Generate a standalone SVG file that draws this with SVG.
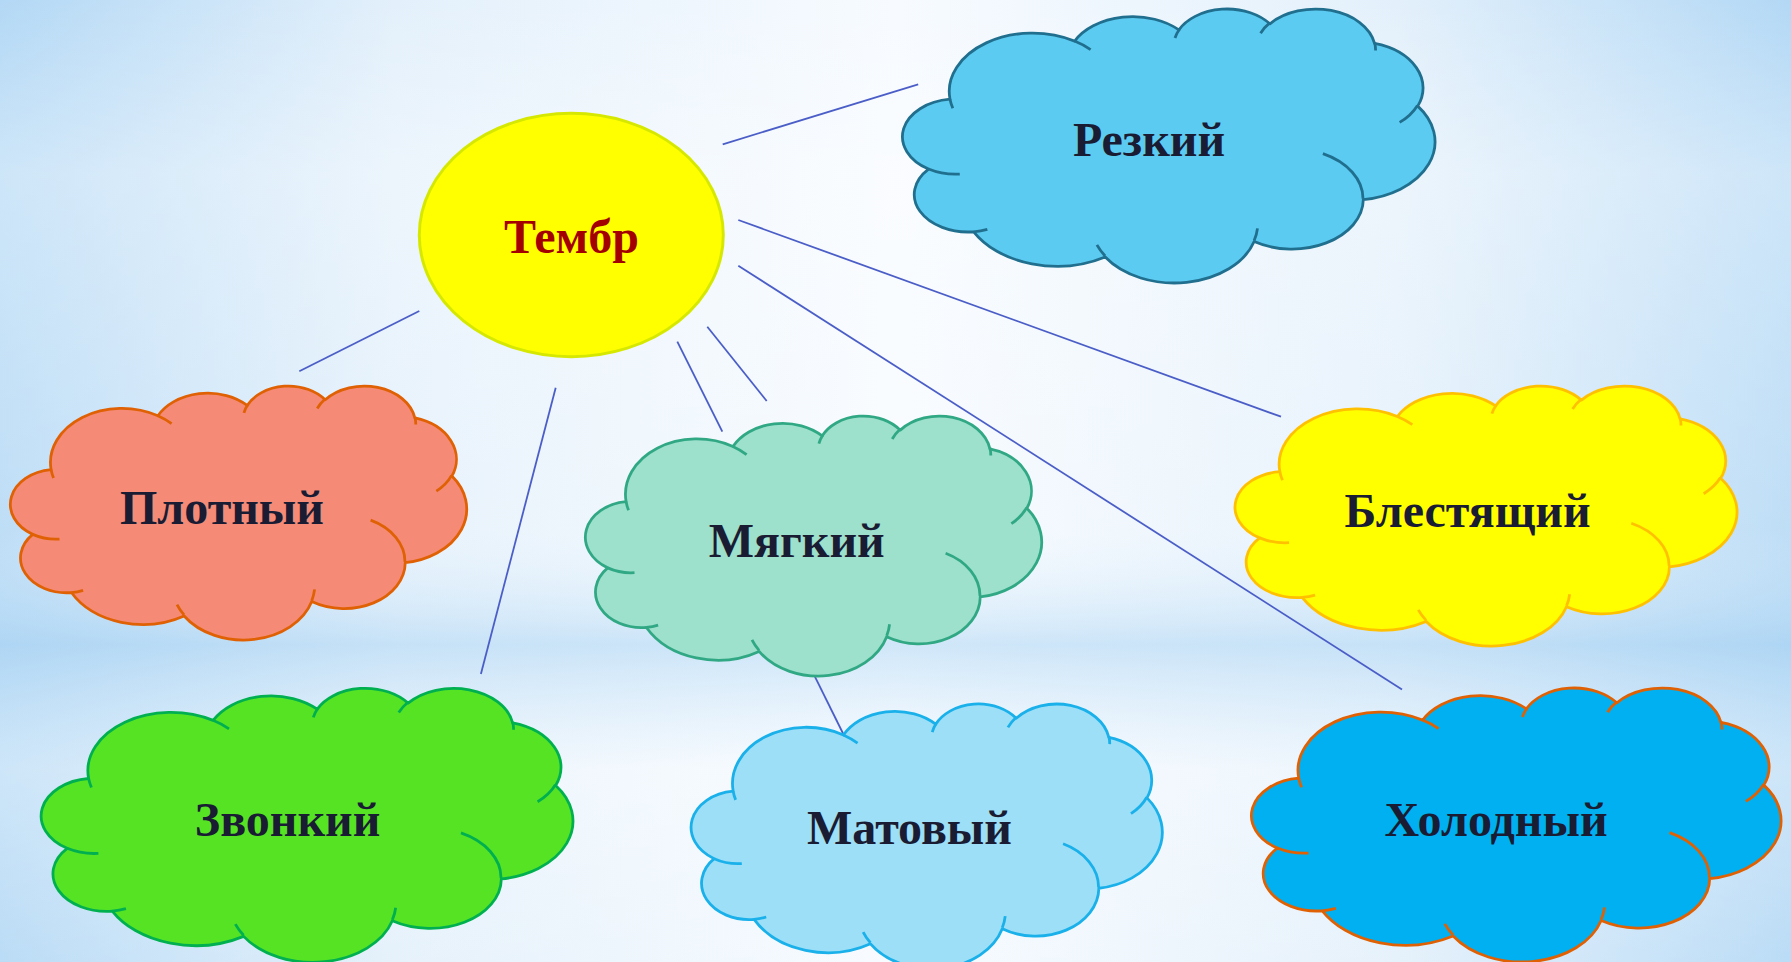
<svg xmlns="http://www.w3.org/2000/svg" xmlns:xlink="http://www.w3.org/1999/xlink" width="1791" height="962" viewBox="0 0 1791 962">
<defs>
<linearGradient id="bgH" x1="0" y1="0" x2="1" y2="0">
<stop offset="0" stop-color="#b3d8f5"/>
<stop offset="0.22" stop-color="#e3f0fb"/>
<stop offset="0.5" stop-color="#f7fbff"/>
<stop offset="0.78" stop-color="#e3f0fb"/>
<stop offset="1" stop-color="#b3d8f5"/>
</linearGradient>
<linearGradient id="bgV" x1="0" y1="0" x2="0" y2="1">
<stop offset="0" stop-color="#ffffff" stop-opacity="0"/>
<stop offset="0.18" stop-color="#ffffff" stop-opacity="0.35"/>
<stop offset="0.55" stop-color="#ffffff" stop-opacity="0.15"/>
<stop offset="0.67" stop-color="#a9d3f3" stop-opacity="0.5"/>
<stop offset="0.8" stop-color="#ffffff" stop-opacity="0.35"/>
<stop offset="1" stop-color="#ffffff" stop-opacity="0.1"/>
</linearGradient>
<path id="cloud" vector-effect="non-scaling-stroke" d="M 39.00 143.70 A 67.53 91.90 0 0 1 140.05 52.02 A 53.33 72.67 0 0 1 224.57 34.35 A 43.65 59.45 0 0 1 298.34 24.83 A 48.57 65.95 0 0 1 383.19 55.78 A 53.33 72.73 0 0 1 418.20 154.61 A 67.75 92.20 0 0 1 374.06 302.05 A 57.85 78.67 0 0 1 285.57 368.15 A 67.52 92.15 0 0 1 164.83 392.68 A 77.20 105.43 0 0 1 58.20 352.81 A 43.60 59.18 0 0 1 21.60 253.80 A 43.45 59.45 0 0 1 39.00 143.70 Z"/>
<path id="cloudIn" vector-effect="non-scaling-stroke" fill="none" d="M 46.93 261.77 A 43.45 59.45 0 0 1 21.60 253.80 M 69.28 348.99 A 43.60 59.18 0 0 1 58.20 352.81 M 164.78 390.90 A 67.52 92.15 0 0 1 158.09 373.48 M 288.27 347.51 A 67.52 92.15 0 0 1 285.60 366.60 M 341.29 229.54 A 57.85 78.67 0 0 1 373.81 300.90 M 417.98 153.54 A 53.33 72.73 0 0 1 403.50 180.31 M 383.24 54.26 A 48.57 65.95 0 0 1 384.01 66.90 M 290.78 39.52 A 48.57 65.95 0 0 1 298.20 23.39 M 221.41 47.20 A 43.65 59.45 0 0 1 225.00 33.31 M 140.00 51.92 A 67.53 91.90 0 0 1 152.99 65.39 M 41.27 157.89 A 67.53 91.90 0 0 1 39.00 143.70"/>
</defs>
<style>
.lbl{font-family:"Liberation Serif","Times New Roman",serif;font-weight:bold;font-size:48px;fill:#1a1c33;text-anchor:middle}
.ttl{fill:#a30000}
.cl{stroke-width:2.8px;stroke-linejoin:round}
.cn line{stroke:#4b5ec8;stroke-width:1.8}
</style>
<rect width="1791" height="962" fill="url(#bgH)"/>
<rect width="1791" height="962" fill="url(#bgV)"/>

<g id="connectors" class="cn">
<line x1="722.7" y1="144.3" x2="918.2" y2="84.3"/>
<line x1="738.3" y1="220" x2="1281" y2="416.7"/>
<line x1="738.3" y1="265.7" x2="1402" y2="689.5"/>
<line x1="707.3" y1="326.7" x2="766.7" y2="401"/>
<line x1="677.3" y1="341.7" x2="722.3" y2="431.7"/>
<line x1="555.7" y1="387.7" x2="480.9" y2="673.9"/>
<line x1="419.3" y1="311" x2="299.3" y2="371.2"/>
<line x1="813.3" y1="673.3" x2="843.3" y2="734"/>
</g>

<g id="timbre">
<ellipse cx="571.3" cy="235" rx="152" ry="121.7" fill="#ffff00" stroke="#d6e800" stroke-width="3"/>
<text class="lbl ttl" x="571.5" y="253">Тембр</text>
</g>

<g id="rezkiy" class="cl" fill="#5ccbf2" stroke="#216f8e">
<use xlink:href="#cloud" transform="translate(901.9 8.1) scale(1.2335 0.634)"/>
<use xlink:href="#cloudIn" transform="translate(901.9 8.1) scale(1.2335 0.634)"/>
<text class="lbl" x="1149" y="156" stroke="none">Резкий</text>
</g>

<g id="plotny" class="cl" fill="#f58b77" stroke="#df6104">
<use xlink:href="#cloud" transform="translate(9.9 385.2) scale(1.0569 0.5877)"/>
<use xlink:href="#cloudIn" transform="translate(9.9 385.2) scale(1.0569 0.5877)"/>
<text class="lbl" x="222" y="524" stroke="none">Плотный</text>
</g>

<g id="blestyashchiy" class="cl" fill="#ffff00" stroke="#ffc000">
<use xlink:href="#cloud" transform="translate(1234.5 385.2) scale(1.1627 0.6016)"/>
<use xlink:href="#cloudIn" transform="translate(1234.5 385.2) scale(1.1627 0.6016)"/>
<text class="lbl" x="1467.6" y="526.7" stroke="none">Блестящий</text>
</g>

<g id="myagkiy" class="cl" fill="#9de0cc" stroke="#31a884">
<use xlink:href="#cloud" transform="translate(584.9 415.2) scale(1.0569 0.6016)"/>
<use xlink:href="#cloudIn" transform="translate(584.9 415.2) scale(1.0569 0.6016)"/>
<text class="lbl" x="796.7" y="556.7" stroke="none">Мягкий</text>
</g>

<g id="zvonkiy" class="cl" fill="#55e324" stroke="#00b050">
<use xlink:href="#cloud" transform="translate(40.6 687.4) scale(1.2317 0.634)"/>
<use xlink:href="#cloudIn" transform="translate(40.6 687.4) scale(1.2317 0.634)"/>
<text class="lbl" x="287.6" y="836" stroke="none">Звонкий</text>
</g>

<g id="matovy" class="cl" fill="#9ddff7" stroke="#1ab0ea">
<use xlink:href="#cloud" transform="translate(690.6 703.1) scale(1.0914 0.613)"/>
<use xlink:href="#cloudIn" transform="translate(690.6 703.1) scale(1.0914 0.613)"/>
<text class="lbl" x="909.5" y="844" stroke="none">Матовый</text>
</g>

<g id="kholodny" class="cl" fill="#00b0f0" stroke="#df6104">
<use xlink:href="#cloud" transform="translate(1250.9 687.1) scale(1.2266 0.634)"/>
<use xlink:href="#cloudIn" transform="translate(1250.9 687.1) scale(1.2266 0.634)"/>
<text class="lbl" x="1496" y="835.7" stroke="none">Холодный</text>
</g>
</svg>
